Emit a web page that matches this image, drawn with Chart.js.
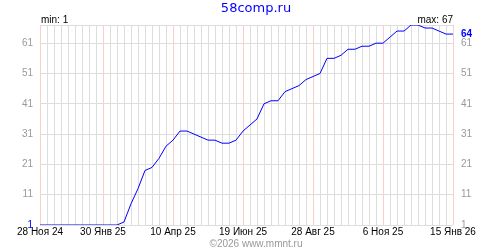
<!DOCTYPE html>
<html>
<head>
<meta charset="utf-8">
<script src="https://cdn.jsdelivr.net/npm/chart.js@4"></script>
<style>
  html, body { margin: 0; padding: 0; background: #fff; }
</style>
</head>
<body>
<canvas id="chart" width="500" height="250"></canvas>
<script>
// weekly points, 28 Nov 2024 .. 15 Jan 2026
const weeks = [
  '28 Ноя 24', '5 Дек 24', '12 Дек 24', '19 Дек 24', '26 Дек 24', '2 Янв 25', '9 Янв 25', '16 Янв 25', '23 Янв 25',
  '30 Янв 25', '6 Фев 25', '13 Фев 25', '20 Фев 25', '27 Фев 25', '6 Мар 25', '13 Мар 25', '20 Мар 25', '27 Мар 25', '3 Апр 25',
  '10 Апр 25', '17 Апр 25', '24 Апр 25', '1 Май 25', '8 Май 25', '15 Май 25', '22 Май 25', '29 Май 25', '5 Июн 25', '12 Июн 25',
  '19 Июн 25', '26 Июн 25', '3 Июл 25', '10 Июл 25', '17 Июл 25', '24 Июл 25', '31 Июл 25', '7 Авг 25', '14 Авг 25', '21 Авг 25',
  '28 Авг 25', '4 Сен 25', '11 Сен 25', '18 Сен 25', '25 Сен 25', '2 Окт 25', '9 Окт 25', '16 Окт 25', '23 Окт 25', '30 Окт 25',
  '6 Ноя 25', '13 Ноя 25', '20 Ноя 25', '27 Ноя 25', '4 Дек 25', '11 Дек 25', '18 Дек 25', '25 Дек 25', '1 Янв 26', '8 Янв 26',
  '15 Янв 26'
];
const xTickLabels = ['28 Ноя 24', '30 Янв 25', '10 Апр 25', '19 Июн 25', '28 Авг 25', '6 Ноя 25', '15 Янв 26'];
const positions = [
  1, 1, 1, 1, 1, 1, 1, 1, 1, 1, 1, 1, 2, 8, 13, 19, 20, 23, 27, 29,
  32, 32, 31, 30, 29, 29, 28, 28, 29, 32, 34, 36, 41, 42, 42, 45, 46, 47, 49, 50,
  51, 56, 56, 57, 59, 59, 60, 60, 61, 61, 63, 65, 65, 67, 67, 66, 66, 65, 64, 64
];
const yTicks = [1, 11, 21, 31, 41, 51, 61];
const yMin = 1;
const yMax = 67;
const titleText = '58comp.ru';
const footerText = '©2026 www.mmnt.ru';

const FONT = '"Liberation Sans", Arial, sans-serif';
const BLUE = '#0000ff';
const GRID = '#dddddd';
const PINK = '#ffcccc';
const labeledIdx = xTickLabels.map((l) => weeks.indexOf(l));

const textPlugin = {
  id: 'extraText',
  afterDraw(chart) {
    const ctx = chart.ctx;
    const area = chart.chartArea;
    const yScale = chart.scales.y;
    const last = positions[positions.length - 1];
    const minVal = Math.min(...positions);
    const maxVal = Math.max(...positions);

    ctx.save();
    ctx.textBaseline = 'alphabetic';

    ctx.font = '13px "DejaVu Sans", sans-serif';
    ctx.fillStyle = BLUE;
    ctx.textAlign = 'center';
    ctx.fillText(titleText, 256, 12);

    ctx.font = '10px ' + FONT;
    ctx.fillStyle = '#000';
    ctx.textAlign = 'left';
    ctx.fillText('min: ' + minVal, area.left + 1, 23);
    ctx.textAlign = 'right';
    ctx.fillText('max: ' + maxVal, area.right, 23);

    ctx.font = 'bold 10px ' + FONT;
    ctx.fillStyle = BLUE;
    ctx.textAlign = 'left';
    ctx.textBaseline = 'middle';
    ctx.fillText(String(last), area.right + 8, yScale.getPixelForValue(last));

    ctx.font = '10px ' + FONT;
    ctx.fillStyle = '#999';
    ctx.textAlign = 'center';
    ctx.textBaseline = 'alphabetic';
    ctx.fillText(footerText, 256, 247);
    ctx.restore();
  },
};

function setTicks(axis) {
  axis.ticks = yTicks.concat([yMax]).map((v) => ({ value: v }));
}

function yLabel(value) {
  return yTicks.includes(value) ? String(value) : '';
}

new Chart(document.getElementById('chart'), {
  type: 'line',
  data: {
    labels: weeks,
    datasets: [{
      data: positions,
      borderColor: BLUE,
      borderWidth: 1,
      pointRadius: 0,
      tension: 0,
      fill: false,
    }],
  },
  options: {
    responsive: false,
    animation: false,
    devicePixelRatio: 1,
    layout: { padding: { top: 25, left: 0, right: 0, bottom: 0 } },
    plugins: {
      legend: { display: false },
      tooltip: { enabled: false },
    },
    scales: {
      x: {
        offset: false,
        afterFit(scale) { scale.height = 25; },
        grid: {
          offset: false,
          drawTicks: false,
          color: (c) => (labeledIdx.includes(c.index) ? PINK : GRID),
        },
        border: { display: false },
        ticks: {
          autoSkip: false,
          maxRotation: 0,
          minRotation: 0,
          padding: 1,
          color: '#000',
          font: { family: FONT, size: 10 },
          callback(value) {
            const l = this.getLabelForValue(value);
            return xTickLabels.includes(l) ? l : '';
          },
        },
      },
      y: {
        position: 'left',
        min: yMin,
        max: yMax,
        afterBuildTicks: setTicks,
        afterFit(scale) { scale.width = 40; },
        grid: { color: GRID, drawTicks: false },
        border: { display: false },
        ticks: {
          padding: 7,
          font: { family: FONT, size: 10 },
          color: (c) => (c.tick && c.tick.value === yMin ? BLUE : '#999'),
          callback: yLabel,
        },
      },
      y2: {
        position: 'right',
        min: yMin,
        max: yMax,
        afterBuildTicks: setTicks,
        afterFit(scale) { scale.width = 47; },
        grid: { display: false, drawTicks: false },
        border: { display: false },
        ticks: {
          padding: 8,
          font: { family: FONT, size: 10 },
          color: '#999',
          callback: yLabel,
        },
      },
    },
  },
  plugins: [textPlugin],
});
</script>
</body>
</html>
